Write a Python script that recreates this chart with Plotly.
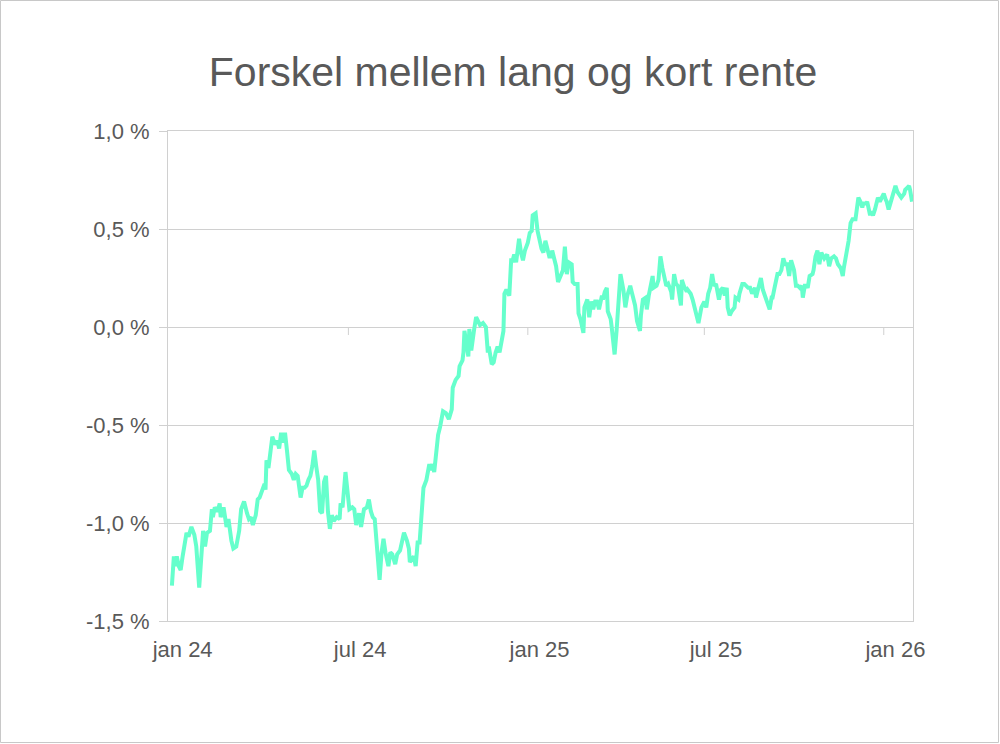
import pandas as pd
import plotly.graph_objects as go

# ---- data ----
start_date = "2024-01-01"
day_offset = [
    1, 3, 4, 6, 8, 10, 12, 14, 16, 18,
    21, 24, 26, 29, 31, 33, 35, 37, 40, 42,
    43, 45, 48, 50, 51, 54, 57, 59, 62, 64,
    67, 70, 72, 75, 78, 80, 82, 84, 87, 89,
    91, 94, 96, 97, 98, 100, 102, 104, 107, 109,
    111, 113, 115, 117, 119, 121, 124, 126, 128, 130,
    133, 135, 137, 139, 141, 143, 145, 147, 149, 151,
    153, 155, 157, 159, 161, 163, 165, 167, 170, 173,
    174, 176, 179, 182, 183, 186, 188, 190, 193, 195,
    198, 201, 203, 205, 207, 209, 211, 213, 214, 216,
    218, 220, 223, 225, 227, 230, 232, 235, 237, 239,
    242, 244, 245, 248, 249, 251, 253, 255, 257, 259,
    262, 265, 266, 268, 270, 272, 274, 276, 279, 282,
    285, 288, 289, 292, 295, 296, 299, 300, 301, 303,
    305, 306, 308, 311, 313, 315, 317, 320, 323, 325,
    326, 329, 331, 333, 335, 337, 339, 341, 342, 344,
    347, 349, 350, 352, 354, 355, 357, 359, 361, 363,
    365, 366, 368, 370, 371, 374, 376, 378, 380, 382,
    384, 386, 388, 390, 391, 393, 395, 397, 400, 402,
    404, 406, 408, 411, 412, 414, 417, 418, 420, 423,
    424, 427, 429, 431, 433, 435, 437, 439, 442, 443,
    445, 447, 448, 451, 452, 455, 457, 459, 461, 464,
    466, 468, 471, 473, 476, 478, 481, 482, 484, 487,
    488, 490, 492, 494, 495, 498, 500, 502, 504, 506,
    508, 510, 513, 514, 516, 518, 520, 523, 524, 526,
    529, 530, 533, 535, 537, 539, 541, 542, 544, 547,
    549, 551, 553, 555, 557, 559, 562, 564, 566, 568,
    570, 571, 573, 575, 578, 579, 582, 583, 586, 588,
    592, 594, 596, 599, 600, 603, 605, 607, 610, 612,
    614, 616, 617, 619, 622, 624, 626, 628, 630, 632,
    634, 636, 639, 641, 643, 645, 647, 648, 650, 652,
    653, 655, 658, 659, 661, 663, 665, 667, 669, 670,
    673, 675, 677, 680, 682, 684, 687, 689, 690, 693,
    695, 697, 699, 702, 704, 705, 707, 709, 710, 713,
    714, 715, 717, 718, 720, 722, 724, 725, 727, 729,
    731, 733, 734, 736, 739, 741, 743, 745, 747, 749,
    752, 753, 755, 757, 758, 760,
]
spread_pct = [
    -1.32, -1.17, -1.22, -1.17, -1.22, -1.24, -1.17, -1.12, -1.05, -1.07,
    -1.02, -1.06, -1.12, -1.33, -1.14, -1.04, -1.12, -1.05, -1.04, -0.93,
    -0.97, -0.92, -0.94, -0.90, -0.97, -0.92, -1.02, -0.98, -1.09, -1.13,
    -1.12, -1.04, -0.93, -0.89, -0.95, -0.98, -0.97, -1.01, -0.96, -0.88,
    -0.87, -0.82, -0.80, -0.83, -0.68, -0.72, -0.64, -0.56, -0.60, -0.58,
    -0.62, -0.54, -0.59, -0.54, -0.63, -0.73, -0.75, -0.78, -0.75, -0.76,
    -0.87, -0.82, -0.82, -0.81, -0.78, -0.76, -0.71, -0.63, -0.71, -0.78,
    -0.94, -0.95, -0.79, -0.76, -0.94, -1.03, -0.96, -0.99, -0.97, -0.98,
    -0.90, -0.92, -0.74, -0.87, -0.93, -0.92, -0.93, -1.01, -0.95, -1.02,
    -0.93, -0.92, -0.88, -0.94, -0.97, -0.98, -1.12, -1.25, -1.29, -1.15,
    -1.08, -1.15, -1.22, -1.15, -1.16, -1.21, -1.16, -1.14, -1.10, -1.05,
    -1.09, -1.13, -1.20, -1.18, -1.17, -1.22, -1.10, -1.10, -0.98, -0.82,
    -0.78, -0.70, -0.73, -0.70, -0.74, -0.64, -0.55, -0.51, -0.43, -0.44,
    -0.47, -0.42, -0.31, -0.27, -0.25, -0.20, -0.17, -0.13, -0.02, -0.08,
    -0.15, -0.01, -0.12, -0.01, 0.05, 0.03, 0.01, 0.02, 0.00, -0.13,
    -0.10, -0.19, -0.18, -0.13, -0.10, -0.13, -0.08, -0.02, 0.17, 0.19,
    0.16, 0.35, 0.33, 0.37, 0.33, 0.36, 0.45, 0.38, 0.34, 0.39,
    0.42, 0.43, 0.48, 0.49, 0.57, 0.58, 0.49, 0.43, 0.40, 0.38,
    0.44, 0.40, 0.36, 0.36, 0.39, 0.35, 0.31, 0.23, 0.27, 0.29,
    0.41, 0.27, 0.33, 0.32, 0.23, 0.22, 0.22, 0.07, 0.04, -0.03,
    0.10, 0.14, 0.05, 0.13, 0.09, 0.13, 0.13, 0.09, 0.16, 0.14,
    0.18, 0.20, 0.08, 0.04, 0.00, -0.14, -0.02, 0.15, 0.27, 0.19,
    0.10, 0.16, 0.21, 0.17, 0.11, 0.03, -0.02, 0.06, 0.14, 0.15,
    0.09, 0.16, 0.20, 0.26, 0.20, 0.21, 0.24, 0.36, 0.30, 0.25,
    0.21, 0.22, 0.18, 0.14, 0.27, 0.22, 0.21, 0.11, 0.24, 0.21,
    0.18, 0.19, 0.17, 0.14, 0.09, 0.06, 0.02, 0.05, 0.10, 0.13,
    0.10, 0.17, 0.20, 0.27, 0.21, 0.22, 0.14, 0.19, 0.20, 0.16,
    0.20, 0.10, 0.06, 0.08, 0.10, 0.15, 0.14, 0.17, 0.22, 0.22,
    0.20, 0.20, 0.17, 0.20, 0.15, 0.21, 0.25, 0.19, 0.15, 0.13,
    0.09, 0.15, 0.15, 0.20, 0.27, 0.27, 0.29, 0.35, 0.32, 0.32,
    0.26, 0.34, 0.29, 0.21, 0.21, 0.20, 0.21, 0.15, 0.21, 0.21,
    0.20, 0.26, 0.27, 0.29, 0.36, 0.39, 0.32, 0.38, 0.36, 0.35,
    0.37, 0.31, 0.35, 0.36, 0.35, 0.32, 0.30, 0.26, 0.30, 0.38,
    0.44, 0.53, 0.55, 0.55, 0.61, 0.66, 0.64, 0.61, 0.63, 0.63,
    0.64, 0.62, 0.57, 0.59, 0.57, 0.60, 0.63, 0.66, 0.64, 0.66,
    0.68, 0.65, 0.64, 0.60, 0.66, 0.69, 0.72, 0.69, 0.67, 0.66,
    0.68, 0.70, 0.71, 0.72, 0.70, 0.64,
]

y_tick_values = [-1.5, -1.0, -0.5, 0.0, 0.5, 1.0]
y_tick_labels = ["-1,5 %", "-1,0 %", "-0,5 %", "0,0 %", "0,5 %", "1,0 %"]
x_label_dates = ["2024-01-13", "2024-07-13", "2025-01-13", "2025-07-13", "2026-01-13"]
x_tick_labels = ["jan 24", "jul 24", "jan 25", "jul 25", "jan 26"]
x_tick_mark_dates = ["2024-07-01", "2025-01-01", "2025-07-01", "2026-01-01"]
x_range = ["2023-12-29", "2026-01-31"]
title_text = "Forskel mellem lang og kort rente"

# ---- figure ----
dates = pd.to_datetime(start_date) + pd.to_timedelta(day_offset, unit="D")

LINE_GRAY = "#d0d0d0"
TEXT_GRAY = "#595959"
FONT = "Liberation Sans, Arial, sans-serif"

fig = go.Figure()
fig.add_trace(go.Scatter(
    x=dates, y=spread_pct, mode="lines",
    line=dict(color="#66FFCC", width=4),
    hoverinfo="x+y", showlegend=False,
))

shapes = []
for d in x_tick_mark_dates:
    shapes.append(dict(
        type="line", xref="x", yref="y", x0=d, x1=d,
        ysizemode="pixel", yanchor=0, y0=0, y1=-8,
        line=dict(color=LINE_GRAY, width=1),
    ))
# outer border of the image
shapes.append(dict(
    type="rect", xref="paper", yref="paper",
    x0=(0.5 - 168) / 745, x1=(998.5 - 168) / 745,
    y0=(621 - 742.5) / 490, y1=(621 - 0.5) / 490,
    line=dict(color="#c8c8c8", width=1), fillcolor="rgba(0,0,0,0)",
    layer="below",
))

fig.update_layout(
    width=1000, height=744,
    margin=dict(l=168, r=87, t=131, b=123),
    paper_bgcolor="white", plot_bgcolor="white",
    font=dict(family=FONT, color=TEXT_GRAY, size=22),
    title=dict(
        text=title_text, font=dict(family=FONT, size=41, color=TEXT_GRAY),
        xref="container", yref="container", x=0.513, y=1 - 72 / 744,
        xanchor="center", yanchor="middle",
    ),
    shapes=shapes,
    xaxis=dict(
        type="date", range=x_range,
        tickmode="array", tickvals=x_label_dates, ticktext=x_tick_labels,
        showgrid=False, zeroline=False,
        showline=True, linecolor=LINE_GRAY, linewidth=1, mirror=True,
        ticks="", tickfont=dict(size=22, color=TEXT_GRAY),
        ticklabelstandoff=9,
    ),
    yaxis=dict(
        range=[-1.5, 1.0],
        tickmode="array", tickvals=y_tick_values, ticktext=y_tick_labels,
        showgrid=True, gridcolor=LINE_GRAY, gridwidth=1,
        zeroline=True, zerolinecolor=LINE_GRAY, zerolinewidth=1,
        showline=True, linecolor=LINE_GRAY, linewidth=1, mirror=True,
        ticks="outside", ticklen=8, tickcolor=LINE_GRAY, tickwidth=1,
        tickfont=dict(size=22, color=TEXT_GRAY),
        ticklabelstandoff=5,
    ),
)

fig.write_html(
    "out.html",
    config={"displayModeBar": False},
    post_script="document.body.style.margin='0';document.body.style.overflow='hidden';",
)
